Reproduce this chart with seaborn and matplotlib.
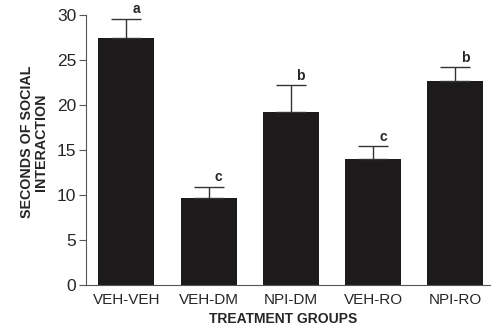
import matplotlib
matplotlib.use("Agg")
import matplotlib.pyplot as plt
import seaborn as sns
import pandas as pd

groups = ["VEH-VEH", "VEH-DM", "NPI-DM", "VEH-RO", "NPI-RO"]
means = [27.4, 9.7, 19.2, 14.0, 22.7]
sems = [2.2, 1.2, 3.0, 1.4, 1.5]
letters = ["a", "c", "b", "c", "b"]

sns.set_theme(style="white")
plt.rcParams["font.family"] = ["Liberation Sans", "DejaVu Sans"]

df = pd.DataFrame({"group": groups, "mean": means})

fig = plt.figure(figsize=(5, 3.28), dpi=100)
ax = fig.add_axes([0.172, 0.131, 0.808, 0.823])
sns.barplot(data=df, x="group", y="mean", color="#1c1a1a", saturation=1,
            width=0.68, ax=ax, errorbar=None, edgecolor="none")
ax.errorbar(range(len(groups)), means, yerr=[[0]*len(sems), sems], fmt="none",
            ecolor="#333333", elinewidth=1, capsize=10.5, capthick=1)
for i, (m, s, l) in enumerate(zip(means, sems, letters)):
    ax.text(i + 0.12, m + s + 0.3, l, ha="center", va="bottom",
            fontsize=10, fontweight="bold")

ax.set_ylim(0, 30)
ax.set_xlim(-0.49, 4.42)
ax.set_yticks(range(0, 31, 5))
ax.tick_params(axis="y", direction="out", length=5, width=0.8, color="#555555",
               labelsize=12.5, left=True, pad=2)
ax.tick_params(axis="x", length=0, labelsize=11, pad=6)
for sp in ["top", "right"]:
    ax.spines[sp].set_visible(False)
for sp in ["left", "bottom"]:
    ax.spines[sp].set_color("#555555")
    ax.spines[sp].set_linewidth(0.8)
ax.set_xlabel("TREATMENT GROUPS", fontsize=10, fontweight="bold")
ax.xaxis.set_label_coords(0.487, -0.1)
ax.set_ylabel("SECONDS OF SOCIAL\nINTERACTION", fontsize=10.3, fontweight="bold",
              linespacing=1.0)
ax.yaxis.set_label_coords(-0.094, 0.53)
fig.savefig("out.png", dpi=100)
